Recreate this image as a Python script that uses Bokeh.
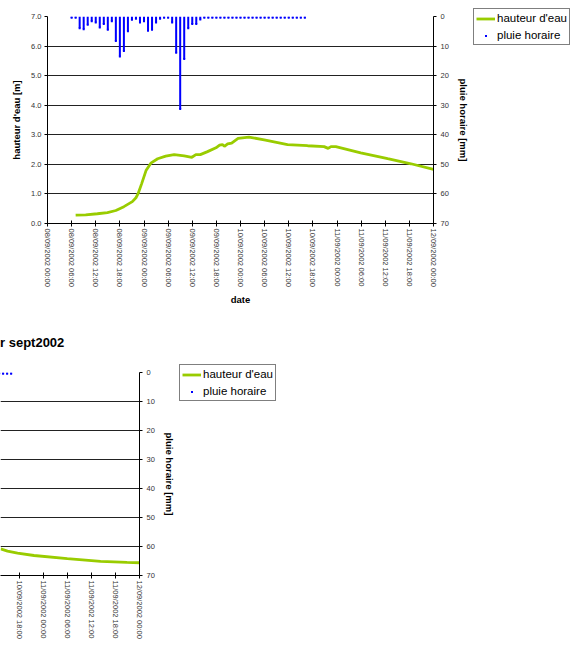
from bokeh.plotting import figure
from bokeh.models import (Range1d, LinearAxis, FixedTicker, Legend, LegendItem, Grid, Div)
from bokeh.layouts import column, row
from bokeh.embed import file_html
from bokeh.resources import INLINE

# ---------------- data ----------------
# x positions are hours since 08/09/2002 00:00
tick_hours = [0, 6, 12, 18, 24, 30, 36, 42, 48, 54, 60, 66, 72, 78, 84, 90, 96]
tick_labels = ["08/09/2002 00:00", "08/09/2002 06:00", "08/09/2002 12:00", "08/09/2002 18:00",
               "09/09/2002 00:00", "09/09/2002 06:00", "09/09/2002 12:00", "09/09/2002 18:00",
               "10/09/2002 00:00", "10/09/2002 06:00", "10/09/2002 12:00", "10/09/2002 18:00",
               "11/09/2002 00:00", "11/09/2002 06:00", "11/09/2002 12:00", "11/09/2002 18:00",
               "12/09/2002 00:00"]

rain_hours = list(range(6, 65))
rain_mm = [0.4, 0.4, 4.0, 4.3, 2.8, 1.6, 2.0, 3.7, 2.5, 4.5, 1.6, 8.3, 13.5, 11.7, 5.0, 1.1,
           0.8, 2.0, 1.6, 4.8, 4.5, 2.0, 0.8, 0.4, 0.4, 2.0, 12.3, 31.3, 14.4, 4.0, 2.5, 2.5,
           1.0, 0.4, 0.4, 0.4, 0.4, 0.4, 0.4, 0.4, 0.4, 0.4, 0.4, 0.4, 0.4, 0.4, 0.4, 0.4,
           0.4, 0.4, 0.4, 0.4, 0.4, 0.4, 0.4, 0.4, 0.4, 0.4, 0.4]

level_hours = [7, 9.5, 12.4, 14.9, 17, 19, 21.1, 22, 22.5, 23.4, 24.5, 25.7, 27.4, 29.4, 31.5,
               34, 35.9, 36.9, 38, 39.8, 41.9, 42.8, 43.5, 44.0, 44.8, 45.8, 47.4, 50.1, 53.9,
               59.7, 64.7, 68.8, 69.8, 70.5, 71.7, 77.9, 84.6, 90.4, 96]
level_m = [0.28, 0.29, 0.33, 0.37, 0.44, 0.57, 0.74, 0.87, 1.0, 1.34, 1.79, 2.04, 2.19, 2.28,
           2.33, 2.29, 2.24, 2.33, 2.33, 2.43, 2.56, 2.65, 2.67, 2.61, 2.69, 2.72, 2.88, 2.92,
           2.83, 2.67, 2.63, 2.60, 2.54, 2.60, 2.60, 2.39, 2.19, 2.02, 1.83]

level2_hours = [61.4, 63.1, 65.6, 69.7, 78, 86.3, 92.9, 96]
level2_m = [0.92, 0.84, 0.77, 0.69, 0.58, 0.49, 0.45, 0.44]

level_ticks = [0, 1, 2, 3, 4, 5, 6, 7]
rain_ticks = [0, 10, 20, 30, 40, 50, 60, 70]

title2 = "r sept2002"

GREEN = "#99CC00"
BLUE = "#0000FF"
FONT = "Liberation Sans"
TICK_COL = "#333333"


def style_axis(ax, tick_in=0, tick_out=3):
    ax.axis_line_color = "black"
    ax.major_tick_line_color = "black"
    ax.major_tick_in = tick_in
    ax.major_tick_out = tick_out
    ax.minor_tick_line_color = None
    ax.major_label_text_font = FONT
    ax.major_label_text_font_size = "7.5px"
    ax.major_label_text_color = TICK_COL
    ax.axis_label_text_font = FONT
    ax.axis_label_text_font_size = "9.5px"
    ax.axis_label_text_font_style = "bold"
    ax.axis_label_text_color = "black"


def legend_fig():
    lf = figure(frame_width=101, frame_height=40, x_range=Range1d(0, 1), y_range=Range1d(0, 1),
                min_border_left=0, min_border_right=0, min_border_top=7, min_border_bottom=0,
                x_axis_location=None, y_axis_location=None,
                output_backend="svg", toolbar_location=None, title=None)
    lf.xgrid.visible = False
    lf.ygrid.visible = False
    lf.outline_line_color = None
    lf.background_fill_color = "white"
    lf.border_fill_color = "white"
    lr = lf.line(x=[-1, -2], y=[-1, -2], line_color=GREEN, line_width=2.8)
    dr = lf.scatter(x=[-1], y=[-1], marker="square", size=2, fill_color=BLUE, line_color=None)
    lg = Legend(items=[LegendItem(label="hauteur d'eau", renderers=[lr]),
                       LegendItem(label="pluie horaire", renderers=[dr])],
                location="top_left")
    lg.border_line_color = "black"
    lg.border_line_width = 1
    lg.background_fill_color = "white"
    lg.background_fill_alpha = 1
    lg.label_text_font = FONT
    lg.label_text_font_size = "11.5px"
    lg.label_text_color = "black"
    lg.glyph_width = 19
    lg.glyph_height = 5
    lg.label_height = 14
    lg.spacing = 3
    lg.padding = 2
    lg.margin = 1
    lg.label_standoff = 2
    lf.add_layout(lg)
    return lf


def build(p, lhours, lvals, xlab, show_left, xmin):
    p.extra_y_ranges = {"rain": Range1d(start=70, end=0)}
    p.outline_line_color = None
    p.background_fill_color = "white"
    p.border_fill_color = "white"
    p.add_layout(Grid(dimension=1, ticker=FixedTicker(ticks=level_ticks),
                      grid_line_color="#222222", grid_line_width=1))
    rh = [h for h in rain_hours if h >= xmin]
    rv = [v for h, v in zip(rain_hours, rain_mm) if h >= xmin]
    # rain bars (secondary reversed axis)
    p.vbar(x=rh, top=rv, bottom=0, width=0.5, y_range_name="rain",
           fill_color=BLUE, line_color=None)
    p.scatter(x=rh, y=rv, marker="square", size=2, y_range_name="rain",
              fill_color=BLUE, line_color=None)
    p.line(x=lhours, y=lvals, line_color=GREEN, line_width=2.8)

    # bottom axis
    xax = p.xaxis[0]
    xax.ticker = FixedTicker(ticks=tick_hours)
    xax.major_label_overrides = {h: l for h, l in zip(tick_hours, tick_labels)}
    xax.major_label_orientation = "vertical"
    xax.major_label_standoff = 2
    xax.axis_label = xlab
    xax.axis_label_standoff = 4
    style_axis(xax, tick_in=3, tick_out=3)

    if show_left:
        yax = p.yaxis[0]
        yax.ticker = FixedTicker(ticks=level_ticks)
        yax.major_label_overrides = {v: "%.1f" % v for v in level_ticks}
        yax.axis_label = "hauteur d'eau [m]"
        yax.major_label_standoff = 3
        yax.axis_label_standoff = 6
        style_axis(yax)

    rax = LinearAxis(y_range_name="rain", ticker=FixedTicker(ticks=rain_ticks),
                     axis_label="pluie horaire [mm]")
    rax.major_label_standoff = 4
    rax.axis_label_standoff = 6
    style_axis(rax)
    p.add_layout(rax, "right")


# ---------------- top chart ----------------
p1 = figure(frame_width=386, frame_height=207, x_range=Range1d(0, 96), y_range=Range1d(0, 7),
            min_border_left=47, min_border_right=39, min_border_top=16, min_border_bottom=107,
            output_backend="svg", toolbar_location=None, title=None)
p1.xgrid.visible = False
p1.ygrid.visible = False
build(p1, level_hours, level_m, "date", True, 0)

# ---------------- title of the second chart ----------------
t2 = Div(text=title2, width=300, height=26, margin=(0, 0, 0, 0),
         styles={"font-family": FONT, "font-size": "13px", "font-weight": "bold",
                 "line-height": "26px", "color": "black", "white-space": "nowrap"})

# ---------------- bottom chart (partially visible) ----------------
x2_start = 61.35
p2 = figure(frame_width=139, frame_height=203, x_range=Range1d(x2_start, 96), y_range=Range1d(0, 7),
            min_border_left=0, min_border_right=39, min_border_top=16, min_border_bottom=87,
            output_backend="svg", toolbar_location=None, title=None,
            y_axis_location=None)
p2.xgrid.visible = False
build(p2, level2_hours, level2_m, "", False, x2_start - 1)

top_row = row(column(p1), column(legend_fig()), spacing=0)
bottom_row = row(column(p2), column(legend_fig()), spacing=0)
layout = column(row(top_row), t2, row(bottom_row), spacing=0)
open("out.html", "w").write(file_html(layout, INLINE))
